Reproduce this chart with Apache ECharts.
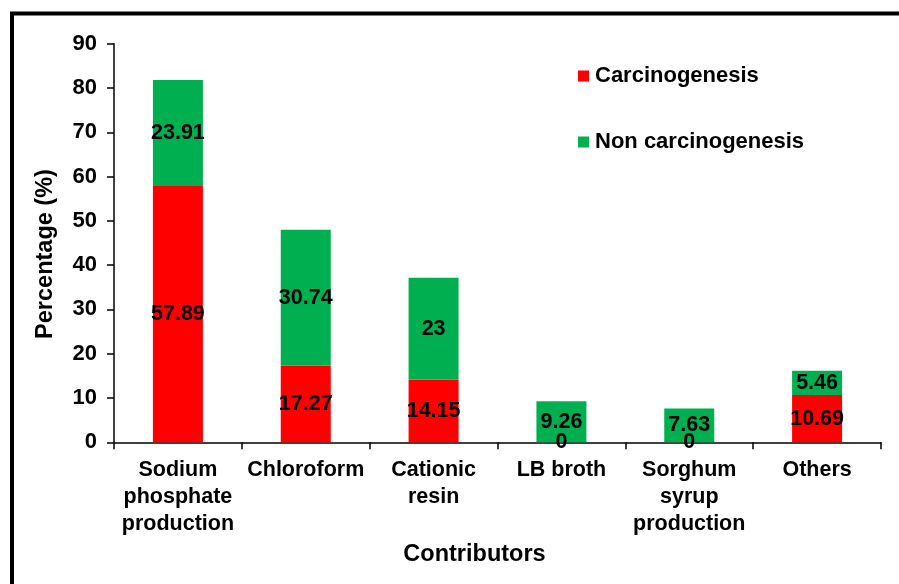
<!DOCTYPE html>
<html>
<head>
<meta charset="utf-8">
<script src="https://cdn.jsdelivr.net/npm/echarts@6/dist/echarts.min.js"></script>
<style>
  html, body { margin: 0; padding: 0; background: #fff; }
  #chart { width: 899px; height: 584px; }
</style>
</head>
<body>
<div id="chart"></div>
<script>
// Contributors and their shares (%)
const categories = [
  'Sodium\nphosphate\nproduction',
  'Chloroform',
  'Cationic\nresin',
  'LB broth',
  'Sorghum\nsyrup\nproduction',
  'Others'
];
const carcinogenesis = [57.89, 17.27, 14.15, 0, 0, 10.69];
const nonCarcinogenesis = [23.91, 30.74, 23, 9.26, 7.63, 5.46];
const yTicks = { min: 0, max: 90, interval: 10 };

const FONT = 'Liberation Sans, Arial, sans-serif';
const labelStyle = {
  show: true,
  position: 'inside',
  color: '#000',
  fontFamily: FONT,
  fontWeight: 'bold',
  fontSize: 21.5
};

const chart = echarts.init(document.getElementById('chart'));
chart.setOption({
  animation: false,
  backgroundColor: '#fff',
  graphic: [{
    type: 'polyline',
    shape: { points: [[12, 584], [12, 13.5], [899, 13.5]] },
    style: { stroke: '#000', lineWidth: 4, fill: null },
    silent: true
  }],
  legend: {
    orient: 'vertical',
    left: 573,
    top: 60,
    itemWidth: 11,
    itemHeight: 11,
    itemGap: 44,
    icon: 'rect',
    textStyle: { fontFamily: FONT, fontWeight: 'bold', fontSize: 22, color: '#000', padding: [0, 0, 0, 1] },
    data: ['Carcinogenesis', 'Non carcinogenesis']
  },
  grid: { left: 114, right: 18, top: 43.7, bottom: 141.7, containLabel: false },
  xAxis: {
    type: 'category',
    data: categories,
    name: 'Contributors',
    nameLocation: 'middle',
    nameGap: 90,
    nameTextStyle: {
      fontFamily: FONT, fontWeight: 'bold', fontSize: 23.5, color: '#000',
      verticalAlign: 'top', padding: [0, 46, 0, 0]
    },
    axisLine: { lineStyle: { color: '#000', width: 1.5 } },
    axisTick: { show: true, length: 7, lineStyle: { color: '#000', width: 1.5 } },
    axisLabel: {
      interval: 0,
      margin: 14,
      lineHeight: 27,
      fontFamily: FONT, fontWeight: 'bold', fontSize: 21.5, color: '#000'
    }
  },
  yAxis: {
    type: 'value',
    min: yTicks.min,
    max: yTicks.max,
    interval: yTicks.interval,
    name: 'Percentage (%)',
    nameLocation: 'middle',
    nameGap: 56,
    nameTextStyle: {
      fontFamily: FONT, fontWeight: 'bold', fontSize: 23.5, color: '#000',
      padding: [0, 22, 0, 0]
    },
    splitLine: { show: false },
    axisLine: { show: true, lineStyle: { color: '#000', width: 1.5 } },
    axisTick: { show: true, length: 7, lineStyle: { color: '#000', width: 1.5 } },
    axisLabel: { margin: 17, fontFamily: FONT, fontWeight: 'bold', fontSize: 22, color: '#000' }
  },
  series: [
    {
      name: 'Carcinogenesis',
      type: 'bar',
      stack: 'total',
      barWidth: 50,
      itemStyle: { color: '#FF0000' },
      label: labelStyle,
      data: carcinogenesis
    },
    {
      name: 'Non carcinogenesis',
      type: 'bar',
      stack: 'total',
      barWidth: 50,
      itemStyle: { color: '#00B050' },
      label: labelStyle,
      data: nonCarcinogenesis
    }
  ]
});
</script>
</body>
</html>
